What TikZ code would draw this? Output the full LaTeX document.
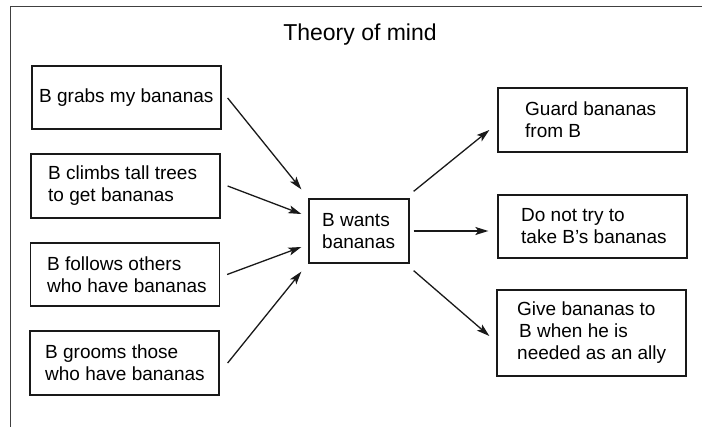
\documentclass[tikz,border=0pt]{standalone}
\usepackage{fontspec}
\setmainfont{Liberation Sans}
\usetikzlibrary{arrows.meta}
\begin{document}
\begin{tikzpicture}[x=1pt,y=-1pt,
  boxnode/.style={draw=black!90,line width=1.3pt,inner sep=0pt,minimum width=#1},
  boxnode/.default=189pt,
  txt/.style={anchor=west,align=left,inner sep=0pt,font=\fontsize{19}{22}\selectfont},
  arr/.style={draw=black!90,line width=1.3pt,-{Stealth[length=13pt,width=8pt,inset=3pt]}},
  frame/.style={draw=black!75,line width=1pt}]
\useasboundingbox (0,0) rectangle (702,427);
% frame
\coordinate (ftl) at (10,7);
\coordinate (ftr) at (702,7);
\coordinate (fbl) at (10,427);
\draw[frame] (ftr) -- (ftl) -- (fbl);
% title
\node[inner sep=0pt,font=\fontsize{23}{26}\selectfont] (title) at (360,35) {Theory of mind};
% left boxes
\node[boxnode,minimum height=63pt] (L1) at (126.5,97.5) {};
\node[boxnode,minimum height=64pt] (L2) at (125.5,186) {};
\node[boxnode,minimum height=63pt] (L3) at (125,274.5) {};
\node[boxnode,minimum height=64pt] (L4) at (124.5,363) {};
\node[txt] (t1) at (39,97.5) {B grabs my bananas};
\node[txt] (t2) at (48,186) {B climbs tall trees\\to get bananas};
\node[txt] (t3) at (47,274.5) {B follows others\\who have bananas};
\node[txt] (t4) at (45,363) {B grooms those\\who have bananas};
% center box
\node[boxnode=100pt,minimum height=64pt] (C) at (359,231) {};
\node[txt] (tc) at (322,231) {B wants\\bananas};
% right boxes
\node[boxnode,minimum height=64pt] (R1) at (592.5,120) {};
\node[boxnode,minimum height=63pt] (R2) at (592.5,226.5) {};
\node[boxnode,minimum height=86pt] (R3) at (591.5,333) {};
\node[txt] (r1) at (525,120) {Guard bananas\\from B};
\node[txt] (r2) at (521,226.5) {Do not try to\\take B's bananas};
\node[txt] (r3) at (517,333) {Give bananas to\\\hspace{2pt}B when he is\\needed as an ally};
% arrows
\draw[arr] ([shift={(6,0.5)}]L1.east) -- ([shift={(-7,-9)}]C.north west);
\draw[arr] ([shift={(7,0)}]L2.east) -- ([shift={(-7,-17)}]C.west);
\draw[arr] ([shift={(7,0)}]L3.east) -- ([shift={(-7,16)}]C.west);
\draw[arr] ([shift={(8,0)}]L4.east) -- ([shift={(-7,8)}]C.south west);
\draw[arr] ([shift={(4,-7)}]C.north east) -- ([shift={(-8,10)}]R1.west);
\draw[arr] ([shift={(4,0)}]C.east) -- ([shift={(-9,0)}]C.east -| R2.west);
\draw[arr] ([shift={(4,7)}]C.south east) -- ([shift={(-7,3)}]R3.west);
\end{tikzpicture}
\end{document}
